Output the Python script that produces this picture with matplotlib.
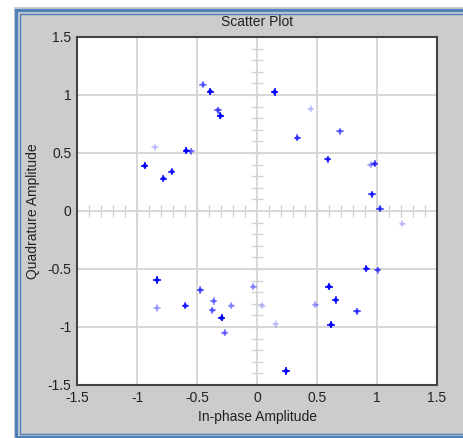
import numpy as np
import matplotlib
matplotlib.use('Agg')
import matplotlib.pyplot as plt
from matplotlib.patches import Rectangle

# constellation points (I, Q, intensity)
i_vals = [-0.45, -0.39, -0.325, -0.305, -0.85, -0.59, -0.55, -0.935, -0.78, -0.71,
          0.147, 0.447, 0.336, 0.692, 0.59, 0.947, 0.981, 0.958, 1.025, 1.211,
          -0.833, -0.833, -0.597, -0.472, -0.361, -0.372, -0.294, -0.214, -0.269, -0.031,
          0.042, 0.156, 0.486, 0.6, 0.656, 0.833, 0.617, 0.911, 1.006, 0.242]
q_vals = [1.09, 1.03, 0.87, 0.82, 0.55, 0.52, 0.515, 0.39, 0.28, 0.34,
          1.026, 0.88, 0.63, 0.687, 0.446, 0.397, 0.408, 0.144, 0.02, -0.109,
          -0.595, -0.836, -0.816, -0.681, -0.776, -0.856, -0.922, -0.816, -1.049, -0.652,
          -0.816, -0.974, -0.808, -0.652, -0.767, -0.865, -0.98, -0.497, -0.509, -1.379]
intensity = [0.45, 1.0, 0.55, 1.0, 0.15, 1.0, 0.4, 0.95, 0.85, 0.75,
             1.0, 0.15, 0.6, 0.45, 0.7, 0.25, 0.6, 0.7, 0.6, 0.15,
             1.0, 0.25, 0.7, 0.55, 0.4, 0.45, 1.0, 0.3, 0.4, 0.3,
             0.15, 0.15, 0.25, 1.0, 0.85, 0.6, 1.0, 0.8, 0.5, 1.0]
ticks = [-1.5, -1, -0.5, 0, 0.5, 1, 1.5]
tick_labels = ['-1.5', '-1', '-0.5', '0', '0.5', '1', '1.5']

plt.rcParams['font.family'] = ['Liberation Sans', 'DejaVu Sans']
plt.rcParams['font.size'] = 10

W, H = 463, 438
fig = plt.figure(figsize=(W / 100, H / 100), dpi=100, facecolor='white')

def fx(px):
    return px / W

def fy(py):
    return 1 - py / H

# gray window background and blue double frame
fig.add_artist(Rectangle((fx(14), fy(438)), fx(470) - fx(14), fy(7) - fy(438),
                         transform=fig.transFigure, facecolor='#cccccc', edgecolor='none', zorder=0))
fig.add_artist(Rectangle((fx(15.5), fy(436.5)), fx(480), fy(9.5) - fy(436.5),
                         transform=fig.transFigure, facecolor='none', edgecolor='#4f81bd',
                         linewidth=2.3, zorder=1))
fig.add_artist(Rectangle((fx(19.5), fy(434)), fx(480), fy(14) - fy(434),
                         transform=fig.transFigure, facecolor='none', edgecolor='#4f81bd',
                         linewidth=1.0, zorder=1))

ax = fig.add_axes([fx(77), fy(385), fx(437) - fx(77), fy(37) - fy(385)])
ax.set_facecolor('white')
ax.set_xlim(-1.5, 1.5)
ax.set_ylim(-1.5, 1.5)

grid_c = '#d4d4d4'
for g in [-1, -0.5, 0.5, 1]:
    ax.axvline(g, color=grid_c, lw=1.3, zorder=1)
    ax.axhline(g, color=grid_c, lw=1.3, zorder=1)
ax.axvline(0, color=grid_c, lw=1.3, zorder=1)
ax.axhline(0, color=grid_c, lw=1.3, zorder=1)

# small ticks along the centre cross
minor = np.round(np.arange(-1.4, 1.45, 0.1), 2)
minor = minor[minor != 0]
ax.plot(minor, np.zeros_like(minor), ls='none', marker='|', ms=8, mew=1.0, color=grid_c, zorder=1)
ax.plot(np.zeros_like(minor), minor, ls='none', marker='_', ms=8, mew=1.0, color=grid_c, zorder=1)

colors = [(0, 0, 1, a) for a in intensity]
ax.scatter(i_vals, q_vals, c=colors, marker='D', s=9, linewidths=0, zorder=3)
ax.scatter(i_vals, q_vals, c=colors, marker='+', s=26, linewidths=1.1, zorder=3)

ax.set_xticks(ticks)
ax.set_xticklabels(tick_labels)
ax.set_yticks(ticks)
ax.set_yticklabels(tick_labels)
ax.tick_params(length=0, pad=4, colors='#222222', labelsize=10)
for s in ax.spines.values():
    s.set_color('#444444')
    s.set_linewidth(1.5)

fig.text(fx(257), fy(22), 'Scatter Plot', ha='center', va='center', fontsize=10, color='#222222')
fig.text(fx(257), fy(417), 'In-phase Amplitude', ha='center', va='center', fontsize=10, color='#222222')
fig.text(fx(33), fy(211), 'Quadrature Amplitude', ha='center', va='center', rotation=90,
         fontsize=10, color='#222222')

fig.savefig('out.png', dpi=100, facecolor='white')
